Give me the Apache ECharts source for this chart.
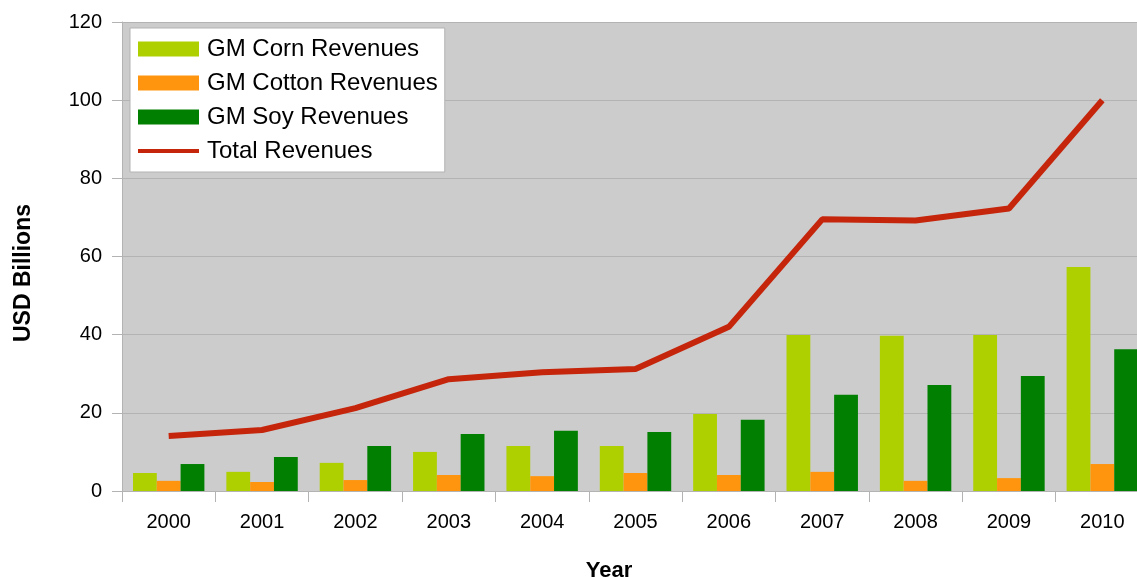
<!DOCTYPE html>
<html>
<head>
<meta charset="utf-8">
<script src="https://cdn.jsdelivr.net/npm/echarts@6/dist/echarts.min.js"></script>
<style>
  html, body { margin: 0; padding: 0; background: #fff; }
  #chart { width: 1137px; height: 577px; }
</style>
</head>
<body>
<div id="chart"></div>
<script>
  var years = ['2000', '2001', '2002', '2003', '2004', '2005', '2006', '2007', '2008', '2009', '2010']
  var cornRevenues = [4.6, 4.9, 7.2, 10.0, 11.5, 11.5, 19.7, 39.9, 39.7, 39.9, 57.3]
  var cottonRevenues = [2.6, 2.3, 2.8, 4.1, 3.8, 4.6, 4.1, 4.9, 2.6, 3.3, 6.9]
  var soyRevenues = [6.9, 8.7, 11.5, 14.6, 15.4, 15.1, 18.2, 24.6, 27.1, 29.4, 36.3]
  var totalRevenues = [14.1, 15.6, 21.2, 28.6, 30.4, 31.2, 42.0, 69.5, 69.2, 72.3, 100.0]

  var font = 'Liberation Sans, Arial, sans-serif'
  var chart = echarts.init(document.getElementById('chart'))

  var option = {
    animation: false,
    textStyle: { fontFamily: font },
    grid: {
      left: 122,
      top: 22,
      right: -12,
      bottom: 86,
      outerBoundsMode: 'none',
      containLabel: false,
      show: true,
      backgroundColor: '#cccccc',
      borderWidth: 0
    },
    legend: {
      orient: 'vertical',
      left: 130,
      top: 28,
      padding: [9, 7, 9, 8],
      backgroundColor: '#ffffff',
      borderColor: '#b3b3b3',
      borderWidth: 1,
      itemWidth: 61,
      itemHeight: 15,
      itemGap: 10,
      textStyle: { fontSize: 24, color: '#000', fontFamily: font, padding: [0, 0, 0, 3] },
      data: [
        { name: 'GM Corn Revenues', icon: 'rect' },
        { name: 'GM Cotton Revenues', icon: 'rect' },
        { name: 'GM Soy Revenues', icon: 'rect' },
        { name: 'Total Revenues', icon: 'path://M0,0H61V4H0Z' }
      ]
    },
    xAxis: {
      type: 'category',
      data: years,
      name: 'Year',
      nameLocation: 'middle',
      nameGap: 69,
      nameTextStyle: { fontSize: 22, fontWeight: 'bold', color: '#000', padding: [0, 53, 0, 0] },
      axisLine: { lineStyle: { color: '#b3b3b3', width: 1 } },
      axisTick: { show: true, length: 11, lineStyle: { color: '#b3b3b3' } },
      axisLabel: { fontSize: 20, color: '#000', margin: 21 }
    },
    yAxis: {
      type: 'value',
      min: 0,
      max: 120,
      interval: 20,
      name: 'USD Billions',
      nameLocation: 'middle',
      nameGap: 87,
      nameRotate: 90,
      nameTextStyle: { fontSize: 23, fontWeight: 'bold', color: '#000', padding: [0, 33, 0, 0] },
      axisLine: { show: true, lineStyle: { color: '#b3b3b3', width: 1 } },
      axisTick: { show: true, length: 10, lineStyle: { color: '#b3b3b3' } },
      axisLabel: { fontSize: 20, color: '#000', margin: 20 },
      splitLine: { show: true, lineStyle: { color: '#b3b3b3', width: 1 } }
    },
    series: [
      {
        name: 'GM Corn Revenues',
        type: 'bar',
        data: cornRevenues,
        barGap: '0%',
        barCategoryGap: '23.5%',
        itemStyle: { color: '#aecf00' }
      },
      {
        name: 'GM Cotton Revenues',
        type: 'bar',
        data: cottonRevenues,
        itemStyle: { color: '#ff950e' }
      },
      {
        name: 'GM Soy Revenues',
        type: 'bar',
        data: soyRevenues,
        itemStyle: { color: '#007f00' }
      },
      {
        name: 'Total Revenues',
        type: 'line',
        data: totalRevenues,
        symbol: 'none',
        z: 5,
        itemStyle: { color: '#c5250b' },
        lineStyle: { color: '#c5250b', width: 6 }
      }
    ]
  }
  chart.setOption(option)
</script>
</body>
</html>
